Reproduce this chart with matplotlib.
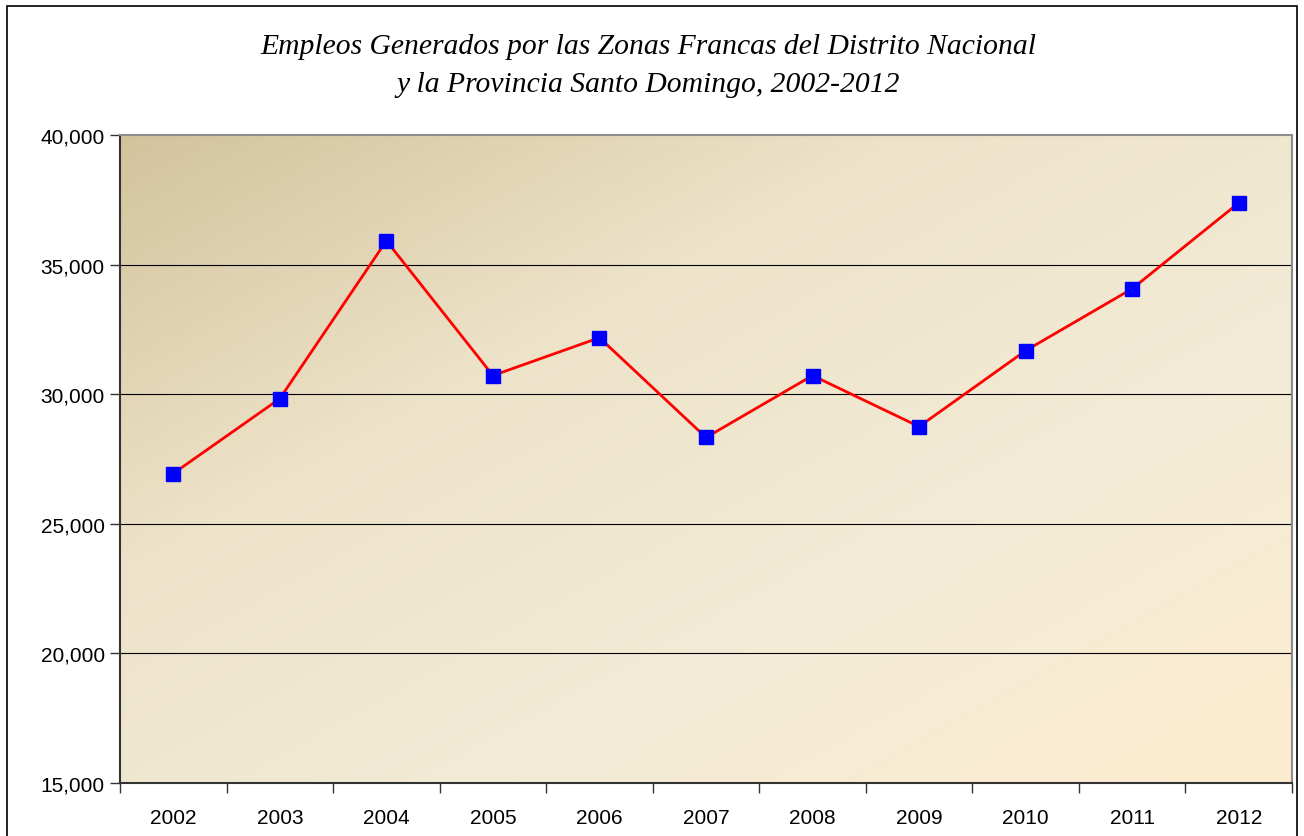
import numpy as np
import matplotlib
matplotlib.use("Agg")
import matplotlib.pyplot as plt
from matplotlib.ticker import FuncFormatter, FixedLocator, NullFormatter
from matplotlib.colors import LinearSegmentedColormap
from matplotlib.patches import Rectangle

# datos
years = ["2002", "2003", "2004", "2005", "2006", "2007", "2008", "2009", "2010", "2011", "2012"]
empleos = [26940, 29830, 35920, 30720, 32180, 28330, 30720, 28750, 31680, 34070, 37380]

plt.rcParams['font.family'] = ['Liberation Sans', 'DejaVu Sans']

fig = plt.figure(figsize=(13.04, 8.37), dpi=100)
ax = fig.add_axes([120 / 1304, 1 - 784 / 837, (1292 - 120) / 1304, (784 - 136) / 837])

# marco exterior
fig.patches.append(Rectangle((7 / 1304, -0.01), (1297 - 7) / 1304, 1 - 7 / 837 + 0.01,
                             transform=fig.transFigure, fill=False, edgecolor="black", linewidth=1.2))

x = np.arange(len(years))
ax.set_xlim(-0.5, len(years) - 0.5)
ax.set_ylim(15000, 40000)

# fondo degradado (oscuro arriba a la izquierda, claro abajo a la derecha)
g = np.linspace(0, 1, 200)
gx, gy = np.meshgrid(g, g)
grad = (gx + gy) / 2
cmap = LinearSegmentedColormap.from_list("fondo", ["#d3c39d", "#ede3c9", "#f3ebd6", "#fcebcf"])
ax.imshow(grad, cmap=cmap, extent=[-0.5, len(years) - 0.5, 15000, 40000], origin="upper",
          aspect="auto", zorder=0)

for v in [20000, 25000, 30000, 35000]:
    ax.axhline(v, color="black", linewidth=0.8, zorder=1)

ax.plot(x, empleos, color="#ff0000", linewidth=2, zorder=3)
ax.plot(x, empleos, linestyle="none", marker="s", markersize=10.5, color="#0000ff",
        markeredgecolor="#0000ff", zorder=4)

ax.set_yticks([15000, 20000, 25000, 30000, 35000, 40000])
ax.yaxis.set_major_formatter(FuncFormatter(lambda v, p: f"{int(v):,}"))
ax.xaxis.set_major_locator(FixedLocator(np.arange(-0.5, len(years), 1)))
ax.xaxis.set_major_formatter(NullFormatter())
ax.xaxis.set_minor_locator(FixedLocator(x))
ax.set_xticklabels(years, minor=True)
ax.tick_params(axis="x", which="minor", length=0, pad=18, labelsize=15)
ax.tick_params(axis="x", which="major", length=7, width=1, color="#333333")
ax.tick_params(axis="y", length=7, width=1, color="#333333", labelsize=15, pad=4)

ax.spines["left"].set_color("#333333")
ax.spines["bottom"].set_color("#333333")
ax.spines["top"].set_color("#8c8c8c")
ax.spines["right"].set_color("#8c8c8c")
for s in ax.spines.values():
    s.set_linewidth(1.5)

fig.text(648 / 1304, 1 - 47 / 837, "Empleos Generados por las Zonas Francas del Distrito Nacional",
         ha="center", va="center", fontsize=21.3, style="italic", family="Liberation Serif")
fig.text(648 / 1304, 1 - 85 / 837, "y la Provincia Santo Domingo, 2002-2012",
         ha="center", va="center", fontsize=21.3, style="italic", family="Liberation Serif")

fig.savefig("out.png", dpi=100)
